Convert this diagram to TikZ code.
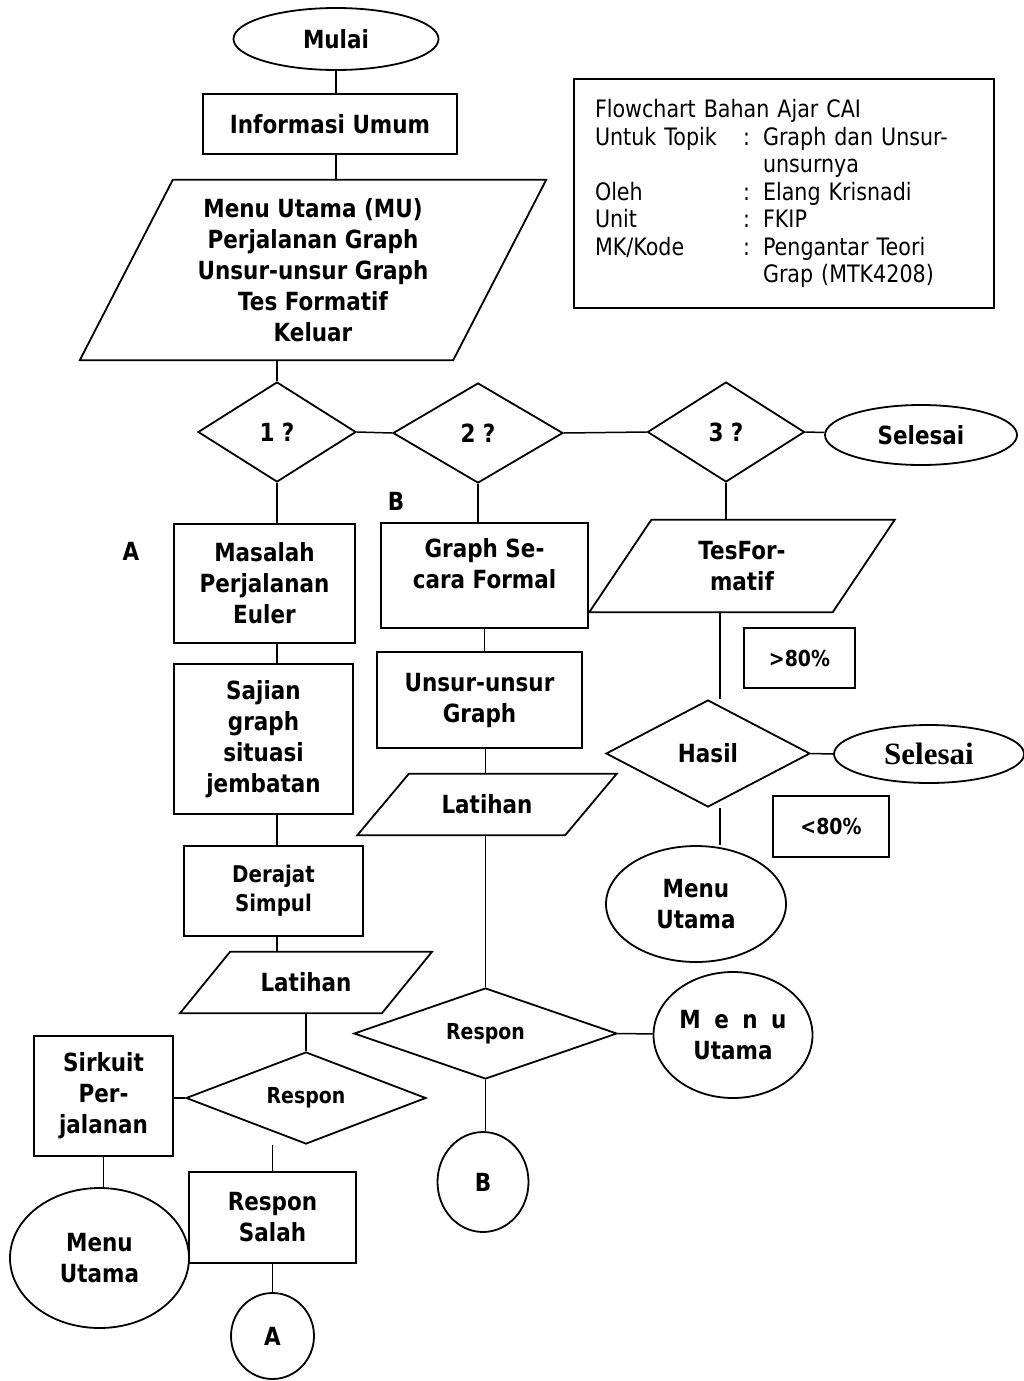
\documentclass[tikz,border=0pt]{standalone}
\usepackage{fontspec}
\setmainfont{DejaVu Sans}[FakeStretch=0.86]
\newfontfamily\selesaiserif{Liberation Serif}
\usetikzlibrary{shapes.geometric,calc}
\tikzset{
  fc line/.style={line width=1.8pt},
  fc link/.style={line width=1.5pt},
  fc text/.style={font=\fontsize{25}{31}\selectfont\bfseries, align=center, inner sep=0pt},
  fc small/.style={font=\fontsize{22}{29}\selectfont\bfseries},
  fc box/.style={fc text, draw, fc line, rectangle},
  fc term/.style={fc text, draw, fc line, ellipse},
  fc ask/.style={fc text, draw, fc line, diamond, aspect=2},
  fc io/.style={fc text},
  fc note/.style={draw, fc line, rectangle, font=\fontsize{24}{27.5}\selectfont, align=left, inner ysep=0pt, inner xsep=21pt},
}
\newcommand{\fcSlant}[2]{\draw[fc line] ($(#1.north west)+(#2,0)$) -- ($(#1.north east)+(#2,0)$) -- ($(#1.south east)-(#2,0)$) -- ($(#1.south west)-(#2,0)$) -- cycle;}
\newcommand{\fcRow}[3]{\makebox[148pt][l]{#1}\makebox[20pt][l]{#2}#3}

\begin{document}
\begin{tikzpicture}[x=1pt,y=-1pt]
\useasboundingbox (0,0) rectangle (1023,1381);
\node[fc term, minimum width=205, minimum height=62] (mulai) at (336,39) {Mulai};
\node[fc box, minimum width=254, minimum height=60] (umum) at (330,124) {Informasi Umum};
\node[fc io, minimum width=373, minimum height=180] (mu) at (313,270) {Menu Utama (MU)\\Perjalanan Graph\\Unsur-unsur Graph\\Tes Formatif\\Keluar};
\fcSlant{mu}{46.5}
\node[fc note, minimum width=420, minimum height=229, text width=378] (note) at (784,193.5) {%
\fcRow{Flowchart Bahan Ajar CAI}{}{}\\
\fcRow{Untuk Topik}{:}{Graph dan Unsur-}\\
\fcRow{}{}{unsurnya}\\
\fcRow{Oleh}{:}{Elang Krisnadi}\\
\fcRow{Unit}{:}{FKIP}\\
\fcRow{MK/Kode}{:}{Pengantar Teori}\\
\fcRow{}{}{Grap (MTK4208)}};
\node[fc ask, minimum width=158, minimum height=100, aspect=1.6] (q1) at (277,432) {1 ?};
\node[fc ask, minimum width=170, minimum height=100, aspect=1.7] (q2) at (478,433) {2 ?};
\node[fc ask, minimum width=157, minimum height=100, aspect=1.6] (q3) at (726,432) {3 ?};
\node[fc term, minimum width=192, minimum height=60] (stop) at (921,435) {Selesai};
\node[fc text] (labA) at (131,551) {A};
\node[fc text] (labB) at (396,501) {B};
\node[fc box, minimum width=181, minimum height=119] (euler) at (264.5,583.5) {Masalah\\Perjalanan\\Euler};
\node[fc box, minimum width=179, minimum height=150] (sajian) at (263.5,739) {Sajian\\graph\\situasi\\jembatan};
\node[fc box, font=\fontsize{23}{29}\selectfont\bfseries, minimum width=179, minimum height=90] (derajat) at (273.5,891) {Derajat\\Simpul};
\node[fc io, minimum width=201.5, minimum height=61] (latA) at (306,982.5) {Latihan};
\fcSlant{latA}{25}
\node[fc ask, fc small, minimum width=240, minimum height=92, aspect=2.6] (resA) at (306,1098) {Respon};
\node[fc box, minimum width=139, minimum height=120] (sirkuit) at (103.5,1096) {Sirkuit\\Per-\\jalanan};
\node[fc term, minimum width=179, minimum height=140] (menuA) at (99.5,1258) {Menu\\Utama};
\node[fc box, minimum width=167, minimum height=91] (salah) at (272.5,1217.5) {Respon\\Salah};
\node[fc term, minimum width=83, minimum height=86] (toA) at (272.5,1336) {A};
\node[fc box, minimum width=207, minimum height=105] (formal) at (484.5,575.5) {Graph Se-\\cara Formal\\[-6pt]~};
\node[fc box, minimum width=205, minimum height=96] (unsur) at (479.5,700) {Unsur-unsur\\Graph};
\node[fc io, minimum width=207.5, minimum height=61] (latB) at (487,804.5) {Latihan};
\fcSlant{latB}{25.75}
\node[fc ask, fc small, minimum width=263, minimum height=91, aspect=2.9] (resB) at (485.5,1033.5) {Respon};
\node[fc term, minimum width=91, minimum height=100] (toB) at (483,1182) {B};
\node[fc term, minimum width=159, minimum height=126] (menuB) at (733,1035) {M\hspace{13.5pt}e\hspace{13.5pt}n\hspace{13.5pt}u\\Utama};
\node[fc io, minimum width=243, minimum height=92] (tes) at (742,566) {TesFor-\\matif};
\fcSlant{tes}{31}
\node[fc box, fc small, minimum width=111, minimum height=60] (hi) at (799.5,658) {>80\%};
\node[fc ask, minimum width=204, minimum height=107, aspect=2] (hasil) at (708,753.5) {Hasil};
\node[fc term, font=\fontsize{31}{36}\selectfont\selesaiserif\bfseries, minimum width=190, minimum height=58] (stopB) at (929,754) {Selesai};
\node[fc box, fc small, minimum width=116, minimum height=61] (lo) at (831,826.5) {<80\%};
\node[fc term, minimum width=180, minimum height=116] (menuC) at (696,904) {Menu\\Utama};
\draw[fc link] (mulai.south) -- (mulai.south |- umum.north);
\draw[fc link] (mulai.south |- umum.south) -- (mulai.south |- mu.north);
\draw[fc link] (q1.north |- mu.south) -- (q1.north);
\draw[fc link] (q1.east) -- (q2.west);
\draw[fc link] (q2.east) -- (q3.west);
\draw[fc link] (q3.east) -- (stop);
\draw[fc link] (q1.south) -- (q1.south |- euler.north);
\draw[fc link] (q1.south |- euler.south) -- (q1.south |- sajian.north);
\draw[fc link] (q1.south |- sajian.south) -- (q1.south |- derajat.north);
\draw[fc link] (q1.south |- derajat.south) -- (q1.south |- latA.north);
\draw[fc link] (latA.south) -- (resA.north);
\draw[fc link] (resA.west) -- (resA.west -| sirkuit.east);
\draw[fc link] (sirkuit.south) -- (sirkuit.south |- menuA.north);
\draw[fc link] (salah.north) -- (salah.north |- resA.south);
\draw[fc link] (salah.south) -- (toA.north);
\draw[fc link] (q2.south) -- (q2.south |- formal.north);
\draw[fc link] (formal.south) -- (formal.south |- unsur.north);
\draw[fc link] (resB.north |- unsur.south) -- (resB.north |- latB.north);
\draw[fc link] (resB.north |- latB.south) -- (resB.north);
\draw[fc link] (resB.south) -- (resB.south |- toB.north);
\draw[fc link] (resB.east) -- (menuB);
\draw[fc link] (q3.south) -- (q3.south |- tes.north);
\draw[fc link] ([xshift=12]hasil.north |- tes.south) -- ([xshift=12]hasil.north);
\draw[fc link] (hasil.east) -- (stopB.west);
\draw[fc link] ([xshift=12]hasil.south) -- ([xshift=12]hasil.south |- menuC.north);
\end{tikzpicture}
\end{document}
